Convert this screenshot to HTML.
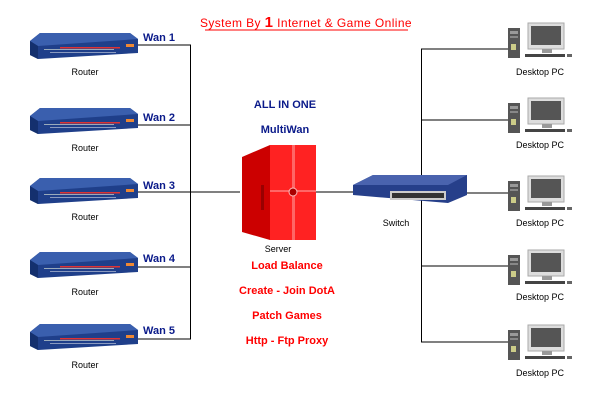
<!DOCTYPE html>
<html><head><meta charset="utf-8"><style>
html,body{margin:0;padding:0;background:#fff;width:600px;height:400px;overflow:hidden}
svg{display:block}
text{font-family:"Liberation Sans",Arial,sans-serif}
</style></head><body>
<svg width="600" height="400" viewBox="0 0 600 400" xmlns="http://www.w3.org/2000/svg">
<defs>
<g id="router">
  <polygon points="0,8 10,0 100,0 108,6 108,20 8,26 0,22" fill="#1f3f8a"/>
  <polygon points="0,8 10,0 100,0 108,6 8,13" fill="#3a5fae"/>
  <polygon points="0,8 8,13 8,26 0,22" fill="#14306e"/>
  <rect x="30" y="14" width="60" height="1.5" fill="#d33"/>
  <rect x="14" y="16" width="70" height="1" fill="#9ab"/>
  <rect x="20" y="19" width="66" height="1" fill="#8a9ac0"/>
  <rect x="96" y="11" width="8" height="3" fill="#e83"/>
</g>
<g id="pc">
  <rect x="0" y="5" width="12" height="30" fill="#555"/>
  <rect x="2" y="8" width="8" height="3" fill="#999"/>
  <rect x="2" y="13" width="8" height="2" fill="#888"/>
  <rect x="3" y="21" width="5" height="6" fill="#cc8"/>
  <rect x="20" y="0" width="36" height="26" fill="#ddd" stroke="#aaa"/>
  <rect x="23" y="3" width="30" height="19" fill="#555"/>
  <rect x="34" y="26" width="10" height="4" fill="#999"/>
  <rect x="17" y="31" width="40" height="3" fill="#444"/>
  <rect x="59" y="31" width="5" height="3" fill="#666"/>
</g>
</defs>
<text x="306" y="27" font-size="12" fill="#f00" text-anchor="middle" letter-spacing="0.4">System  By <tspan font-weight="bold" font-size="15">1</tspan> Internet &amp; Game Online</text>
<line x1="205" y1="30" x2="408" y2="30" stroke="#f00" stroke-width="1"/>
<g stroke="#000" stroke-width="1" fill="none">
  <polyline points="138,45 190.5,45 190.5,339 138,339"/>
  <line x1="138" y1="125" x2="190" y2="125"/>
  <line x1="138" y1="192" x2="240" y2="192"/>
  <line x1="138" y1="267" x2="190" y2="267"/>
  <line x1="316" y1="192" x2="355" y2="192"/>
  <line x1="465" y1="193" x2="510" y2="193"/>
  <polyline points="510,49 421.5,49 421.5,342 510,342"/>
  <line x1="421" y1="120" x2="510" y2="120"/>
  <line x1="421" y1="266" x2="510" y2="266"/>
</g>
<use href="#router" x="30" y="33"/>
<use href="#router" x="30" y="108"/>
<use href="#router" x="30" y="178"/>
<use href="#router" x="30" y="252"/>
<use href="#router" x="30" y="324"/>
<g font-size="9" fill="#000" text-anchor="middle">
  <text x="85" y="75">Router</text><text x="85" y="151">Router</text><text x="85" y="220">Router</text><text x="85" y="295">Router</text><text x="85" y="368">Router</text>
</g>
<g font-size="11" font-weight="bold" fill="#0a1a8a">
  <text x="143" y="41">Wan 1</text><text x="143" y="121">Wan 2</text><text x="143" y="189">Wan 3</text><text x="143" y="262">Wan 4</text><text x="143" y="334">Wan 5</text>
  <text x="285" y="108" text-anchor="middle">ALL IN ONE</text>
  <text x="285" y="133" text-anchor="middle">MultiWan</text>
</g>
<polygon points="242,157 270,145 270,240 242,232" fill="#c00"/>
<rect x="270" y="145" width="46" height="95" fill="#f22"/>
<rect x="292" y="145" width="3" height="95" fill="#f66"/>
<rect x="270" y="190" width="46" height="2" fill="#f66"/>
<circle cx="293" cy="192" r="4" fill="#a00" stroke="#fbb"/>
<rect x="261" y="185" width="3" height="25" fill="#900"/>
<text x="278" y="252" font-size="9" text-anchor="middle">Server</text>
<polygon points="353,185 373,175 467,175 467,195 448,203 353,195" fill="#263f8a"/>
<polygon points="353,185 373,175 467,175 448,185" fill="#4a63ae"/>
<rect x="390" y="191" width="56" height="9" fill="#ccc"/>
<rect x="392" y="193" width="52" height="5" fill="#333"/>
<text x="396" y="226" font-size="9" text-anchor="middle">Switch</text>
<use href="#pc" x="508" y="23"/>
<use href="#pc" x="508" y="98"/>
<use href="#pc" x="508" y="176"/>
<use href="#pc" x="508" y="250"/>
<use href="#pc" x="508" y="325"/>
<g font-size="9" fill="#000" text-anchor="middle">
  <text x="540" y="75">Desktop PC</text><text x="540" y="148">Desktop PC</text><text x="540" y="226">Desktop PC</text><text x="540" y="300">Desktop PC</text><text x="540" y="376">Desktop PC</text>
</g>
<g font-size="11" font-weight="bold" fill="#f00" text-anchor="middle">
  <text x="287" y="269">Load Balance</text>
  <text x="287" y="294">Create - Join DotA</text>
  <text x="287" y="319">Patch Games</text>
  <text x="287" y="344">Http - Ftp Proxy</text>
</g>
</svg>
</body></html>
